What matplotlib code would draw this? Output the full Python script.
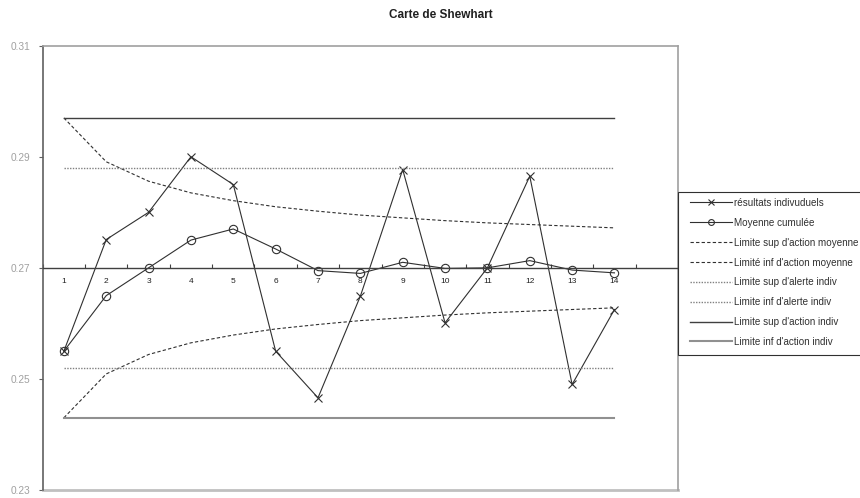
import matplotlib
matplotlib.use("Agg")
import matplotlib.pyplot as plt
from matplotlib.ticker import FixedLocator, NullFormatter
from matplotlib.patches import Rectangle

plt.rcParams['font.family'] = ['Liberation Sans', 'DejaVu Sans']

categories = [str(i) for i in range(1, 15)] + [""]
individuels = [0.2550, 0.2751, 0.2800, 0.2900, 0.2850, 0.2550, 0.2466,
               0.2649, 0.2877, 0.2601, 0.2700, 0.2865, 0.2490, 0.2625]
moyenne_cumulee = [0.2550, 0.2650, 0.2700, 0.2750, 0.2770, 0.2734, 0.2695,
                   0.2690, 0.2710, 0.2699, 0.2700, 0.2713, 0.2696, 0.2691]
sup_action_moy = [0.2970, 0.2891, 0.2856, 0.2835, 0.2821, 0.2810, 0.2802,
                  0.2795, 0.2790, 0.2785, 0.2781, 0.2778, 0.2775, 0.2772]
inf_action_moy = [0.2430, 0.2509, 0.2544, 0.2565, 0.2579, 0.2590, 0.2598,
                  0.2605, 0.2610, 0.2615, 0.2619, 0.2622, 0.2625, 0.2628]
sup_alerte_indiv = [0.2880] * 14
inf_alerte_indiv = [0.2520] * 14
sup_action_indiv = [0.2970] * 14
inf_action_indiv = [0.2430] * 14
yticks = [0.23, 0.25, 0.27, 0.29, 0.31]
ytick_labels = ["0.23", "0.25", "0.27", "0.29", "0.31"]

x = list(range(1, 15))

fig = plt.figure(figsize=(8.6, 4.98), dpi=100)
ax = fig.add_axes([42.7 / 860, 1 - 490 / 498, (678 - 42.7) / 860, (490 - 45.7) / 498])

dark = '#303030'
ax.plot(x, individuels, color=dark, lw=0.8, marker='x', ms=6, mew=0.8,
        label="résultats indivuduels")
ax.plot(x, moyenne_cumulee, color=dark, lw=0.8, marker='o', ms=6, mfc='none',
        mew=0.8, label="Moyenne cumulée")
ax.plot(x, sup_action_moy, color=dark, lw=0.8, ls=(0, (3, 2)),
        label="Limite sup d'action moyenne")
ax.plot(x, inf_action_moy, color=dark, lw=0.8, ls=(0, (3, 2)),
        label="Limité inf d'action moyenne")
ax.plot(x, sup_alerte_indiv, color='#808080', lw=1.0, ls=(0, (1, 1)),
        label="Limite sup d'alerte indiv")
ax.plot(x, inf_alerte_indiv, color='#808080', lw=1.0, ls=(0, (1, 1)),
        label="Limite inf d'alerte indiv")
ax.plot(x, sup_action_indiv, color='#404040', lw=1.0,
        label="Limite sup d'action indiv")
ax.plot(x, inf_action_indiv, color='#909090', lw=1.5,
        label="Limite inf d'action indiv")

ax.set_xlim(0.5, 15.5)
ax.set_ylim(0.23, 0.31)

# spines
for s in ['top', 'right', 'left']:
    ax.spines[s].set_color('#a0a0a0')
    ax.spines[s].set_linewidth(1.2)
ax.spines['left'].set_color('#606060')
ax.spines['bottom'].set_position(('data', 0.27))
ax.spines['bottom'].set_color('#404040')
ax.spines['bottom'].set_linewidth(1.0)
ax.plot([0, 1], [0, 0], transform=ax.transAxes, color='#c0c0c0', lw=2,
        clip_on=False)

# x ticks
ax.set_xticks(range(1, 16))
ax.set_xticklabels(categories)
ax.xaxis.set_minor_locator(FixedLocator([i + 0.5 for i in range(0, 16)]))
ax.xaxis.set_minor_formatter(NullFormatter())
ax.tick_params(axis='x', which='major', length=0, labelsize=6, pad=7,
               labelcolor='#202020')
ax.tick_params(axis='x', which='minor', length=3, direction='in',
               color='#404040', width=0.8)

# y ticks
ax.set_yticks(yticks)
ax.set_yticklabels(ytick_labels)
ax.tick_params(axis='y', length=3, direction='out', color='#606060',
               labelsize=7.3, labelcolor='#a0a0a0', pad=6)

fig.text(0.512, 0.97, "Carte de Shewhart", ha='center', va='center',
         fontsize=8.5, fontweight='bold', color='#202020')

# legend frame (extends past the right edge like the reference)
frame = Rectangle((678 / 860, 1 - 355 / 498), 200 / 860, (355 - 192) / 498,
                  transform=fig.transFigure, facecolor='white',
                  edgecolor='#303030', lw=0.8, zorder=1)
fig.add_artist(frame)

leg = fig.legend(loc='upper left', bbox_to_anchor=(684 / 860, 1 - 192 / 498),
                 fontsize=7.1, frameon=False, handlelength=4.3,
                 handletextpad=0.12, labelspacing=1.0, borderpad=0.6,
                 borderaxespad=0, markerscale=0.7)
leg.set_zorder(2)
for t in leg.get_texts():
    t.set_color('#303030')

fig.savefig("out.png", dpi=100)
